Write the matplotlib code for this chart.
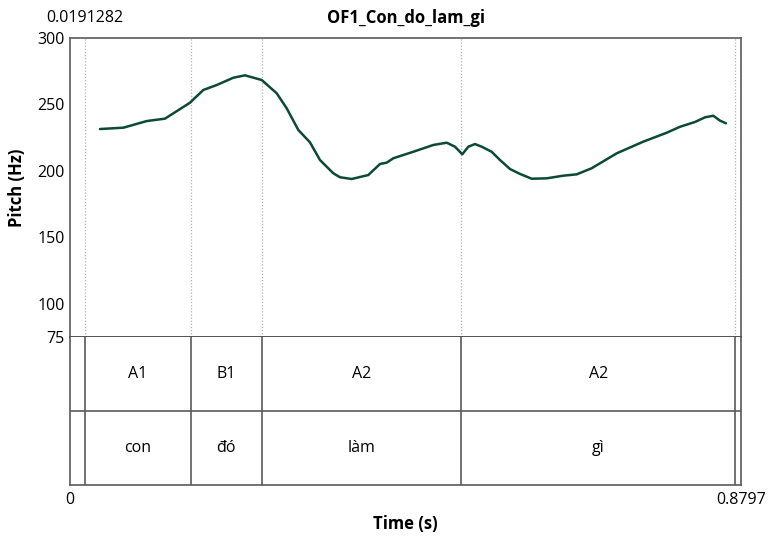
import matplotlib
matplotlib.use("Agg")
import matplotlib.pyplot as plt

plt.rcParams['font.family'] = ['Open Sans', 'DejaVu Sans']

# Pitch track (time in s, F0 in Hz)
times = [0.0393, 0.0699, 0.1006, 0.1245, 0.1573, 0.1748, 0.1923, 0.2141,
         0.2294, 0.2513, 0.2710, 0.2841, 0.2993, 0.3146, 0.3277, 0.3452,
         0.3540, 0.3693, 0.3911, 0.4064, 0.4152, 0.4239, 0.4501, 0.4763,
         0.4939, 0.5047, 0.5143, 0.5222, 0.5310, 0.5397, 0.5528, 0.5637,
         0.5769, 0.5900, 0.6053, 0.6250, 0.6467, 0.6643, 0.6840, 0.7167,
         0.7516, 0.7823, 0.7997, 0.8194, 0.8325, 0.8434, 0.8522, 0.8600]
pitch = [231.5, 232.5, 237.5, 239.3, 251.3, 260.9, 264.6, 270.1,
         271.9, 268.4, 258.4, 247.1, 230.8, 221.5, 208.2, 198.2,
         195.2, 193.9, 196.9, 205.2, 206.2, 209.5, 214.4, 219.5,
         221.2, 218.2, 212.5, 218.2, 220.2, 218.2, 214.4, 208.2,
         201.4, 197.7, 194.1, 194.4, 196.4, 197.4, 202.0, 213.2,
         222.0, 228.7, 233.2, 236.8, 240.3, 241.5, 237.8, 235.8]

t_start, t_end = 0.0, 0.8797
boundaries = [0.0191282, 0.1582, 0.2517, 0.5126, 0.8722]
tones = ["A1", "B1", "A2", "A2"]
words = ["con", "đó", "làm", "gì"]
y_ticks = [75, 100, 150, 200, 250, 300]
title = "OF1_Con_do_lam_gi"

W, H = 771, 540
fig = plt.figure(figsize=(W / 100, H / 100), dpi=100)

left, right = 70, 741
top, mid, bottom = 38, 337, 485

def fx(px):
    return px / W

def fy(py):
    return 1 - py / H

frame_col = "#5a5a5a"
ax = fig.add_axes([fx(left), fy(mid), fx(right - left), fy(top) - fy(mid)])
ax.set_xlim(t_start, t_end)
ax.set_ylim(75, 300)
for b in boundaries:
    ax.axvline(b, color="#b0b0b0", lw=0.9, ls=(0, (1, 1.5)), zorder=1)
ax.plot(times, pitch, color="#0b4a36", lw=1.8, solid_capstyle="round",
        solid_joinstyle="round", zorder=3)
ax.set_xticks([])
ax.set_yticks(y_ticks)
ax.set_yticklabels([str(v) for v in y_ticks], fontsize=11.5)
ax.tick_params(axis="y", length=0, pad=4)
for s in ax.spines.values():
    s.set_color(frame_col)
    s.set_linewidth(1.2)
ax.spines["bottom"].set_color("#333333")
ax.set_ylabel("Pitch (Hz)", fontsize=12, fontweight="bold", labelpad=8)

# Annotation tiers
tx = fig.add_axes([fx(left), fy(bottom), fx(right - left), fy(mid) - fy(bottom)])
tx.set_xlim(t_start, t_end)
tx.set_ylim(0, 2)
tx.set_xticks([])
tx.set_yticks([])
for s in tx.spines.values():
    s.set_color(frame_col)
    s.set_linewidth(1.2)
tx.spines["top"].set_visible(False)
tx.axhline(1, color=frame_col, lw=1.2)
for b in boundaries:
    tx.axvline(b, color=frame_col, lw=1.2)
for i in range(len(tones)):
    c = (boundaries[i] + boundaries[i + 1]) / 2
    tx.text(c, 1.5, tones[i], ha="center", va="center", fontsize=11.5)
    tx.text(c, 0.5, words[i], ha="center", va="center", fontsize=11.5)

fig.text(fx(left + (right - left) * boundaries[0] / t_end), fy(18), f"{boundaries[0]}",
         ha="center", va="center", fontsize=11.5)
fig.text(fx((left + right) / 2), fy(18), title, ha="center", va="center",
         fontsize=12, fontweight="bold")
fig.text(fx(left), fy(500), "0", ha="center", va="center", fontsize=11.5)
fig.text(fx(right), fy(500), f"{t_end}", ha="center", va="center", fontsize=11.5)
fig.text(fx((left + right) / 2), fy(524), "Time (s)", ha="center", va="center",
         fontsize=12, fontweight="bold")

fig.savefig("out.png", dpi=100)
